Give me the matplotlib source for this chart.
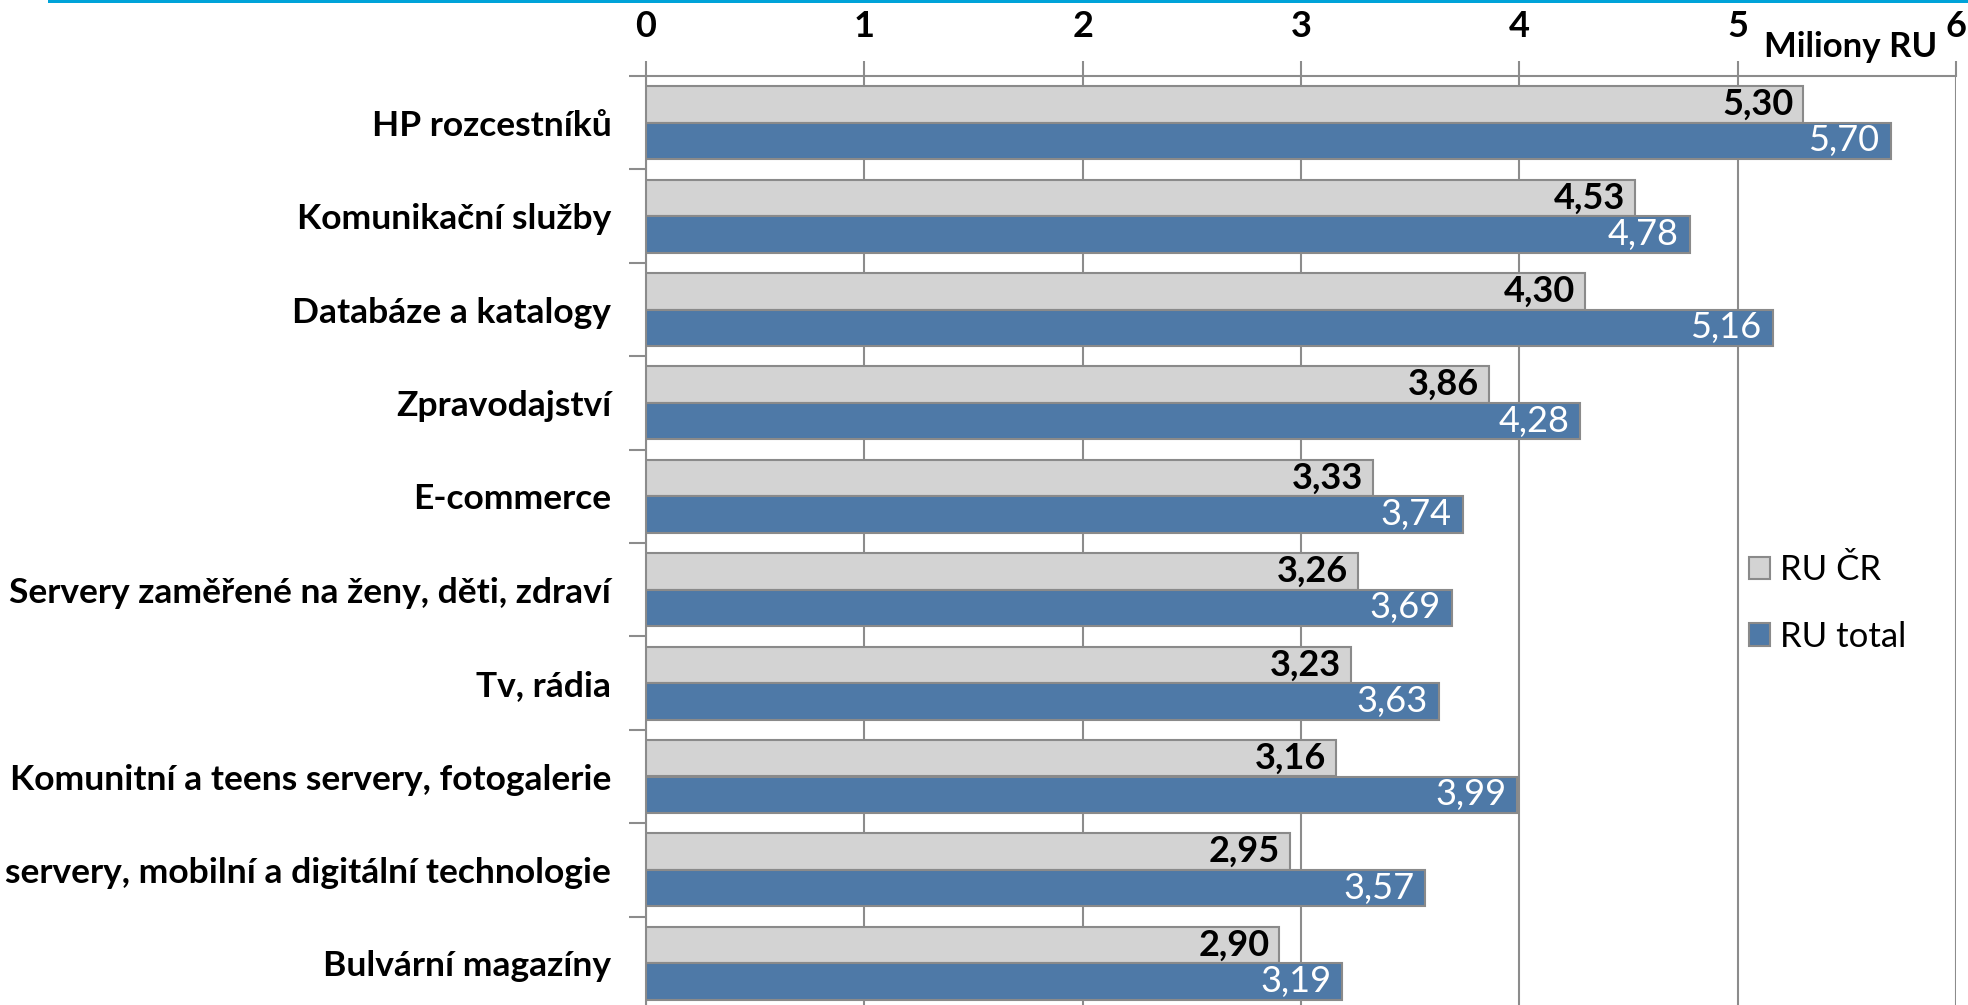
import matplotlib.pyplot as plt
import numpy as np
from matplotlib.patches import Patch, Rectangle

# data (top to bottom)
categories = [
    "HP rozcestníků",
    "Komunikační služby",
    "Databáze a katalogy",
    "Zpravodajství",
    "E-commerce",
    "Servery zaměřené na ženy, děti, zdraví",
    "Tv, rádia",
    "Komunitní a teens servery, fotogalerie",
    "servery, mobilní a digitální technologie",
    "Bulvární magazíny",
]
ru_cr = [5.30, 4.53, 4.30, 3.86, 3.33, 3.26, 3.23, 3.16, 2.95, 2.90]
ru_total = [5.70, 4.78, 5.16, 4.28, 3.74, 3.69, 3.63, 3.99, 3.57, 3.19]
x_ticks = [0, 1, 2, 3, 4, 5, 6]
series_names = ["RU ČR", "RU total"]
unit_label = "Miliony RU"

GRAY = "#D3D3D3"
BLUE = "#4E79A7"
EDGE = "#8A8A8A"
LINE = "#8C8C8C"

plt.rcParams["font.family"] = ["Lato", "DejaVu Sans"]

W, H = 1968, 1005
fig = plt.figure(figsize=(W / 100, H / 100), dpi=100)
ax = fig.add_axes([646 / W, 1 - 1010 / H, (1956 - 646) / W, (1010 - 76) / H])

# cyan rule at the very top
fig.patches.append(Rectangle((48 / W, 1 - 3.5 / H), 1, 3.5 / H,
                             transform=fig.transFigure, color="#00A3D9",
                             linewidth=0))

y = np.arange(len(categories))
h = 0.39
ax.barh(y - h / 2, ru_cr, height=h, color=GRAY, edgecolor=EDGE,
        linewidth=1.5, zorder=3)
ax.barh(y + h / 2, ru_total, height=h, color=BLUE, edgecolor=EDGE,
        linewidth=1.5, zorder=3)

for i in range(len(categories)):
    ax.annotate(f"{ru_cr[i]:.2f}".replace(".", ","), (ru_cr[i], y[i] - h / 2),
                xytext=(-7, 0), textcoords="offset points", ha="right",
                va="center", fontsize=26, fontweight="bold", color="black",
                zorder=4)
    ax.annotate(f"{ru_total[i]:.2f}".replace(".", ","),
                (ru_total[i], y[i] + h / 2), xytext=(-8, 0),
                textcoords="offset points", ha="right", va="center",
                fontsize=26, color="white", zorder=4)

ax.set_xlim(0, 6)
ax.set_ylim(len(categories) - 0.5, -0.5)

# x axis on top
ax.xaxis.tick_top()
ax.set_xticks(x_ticks)
ax.set_xticklabels([str(t) for t in x_ticks], fontsize=26, fontweight="bold")
ax.tick_params(axis="x", direction="out", length=11, width=1.5, color=LINE,
               pad=13)
ax.grid(axis="x", color=LINE, linewidth=1.5, zorder=0)

# category labels with ticks on the boundaries
ax.set_yticks(y)
ax.set_yticklabels(categories, fontsize=25.5, fontweight="bold")
ax.tick_params(axis="y", which="major", length=0, pad=25)
ax.set_yticks(np.arange(len(categories) + 1) - 0.5, minor=True)
ax.tick_params(axis="y", which="minor", direction="out", length=12,
               width=1.5, color=LINE)

for side in ["bottom", "right"]:
    ax.spines[side].set_visible(False)
for side in ["left", "top"]:
    ax.spines[side].set_color(LINE)
    ax.spines[side].set_linewidth(1.5)

fig.text(1764 / W, 1 - 47 / H, unit_label, fontsize=25, fontweight="bold",
         ha="left", va="center")

handles = [Patch(facecolor=GRAY, edgecolor=EDGE, linewidth=1.5),
           Patch(facecolor=BLUE, edgecolor=EDGE, linewidth=1.5)]
fig.legend(handles, series_names, loc="upper left",
           bbox_to_anchor=(1749 / W, 1 - 554 / H), frameon=False,
           fontsize=25, handlelength=0.6, handleheight=0.6,
           handletextpad=0.3, labelspacing=1.0, borderpad=0,
           borderaxespad=0)

fig.savefig("out.png", dpi=100)
